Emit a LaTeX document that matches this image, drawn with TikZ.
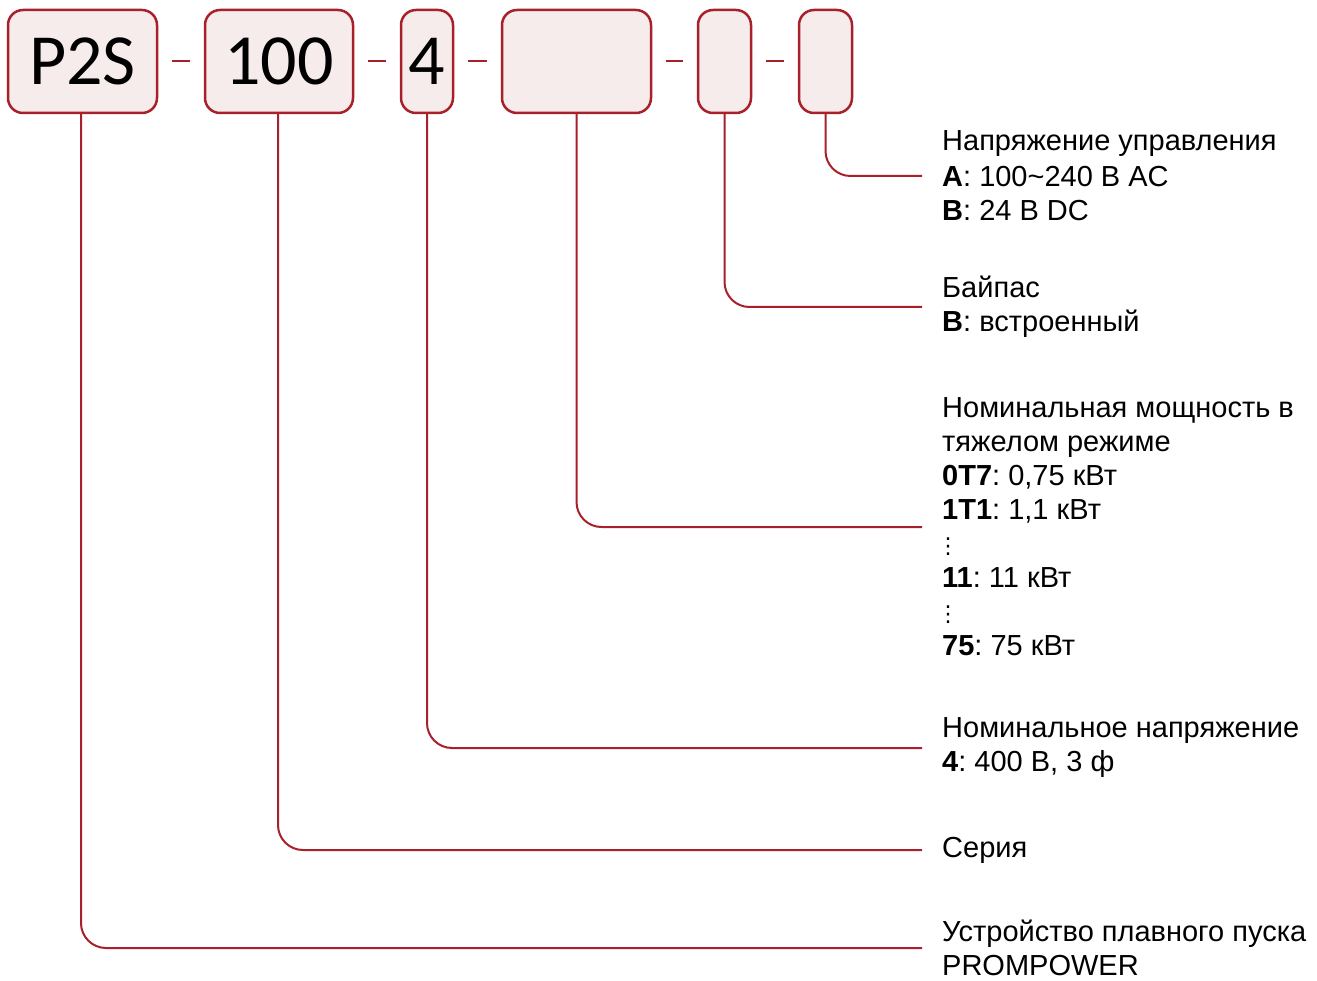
\documentclass[tikz,border=0pt]{standalone}
\usepackage{fontspec}
\setmainfont{Liberation Sans}
\newfontfamily\boxfont{Carlito}
\newfontfamily\dotsfont{DejaVu Sans}
\usetikzlibrary{positioning}
\definecolor{codered}{RGB}{168,32,42}
\definecolor{codefill}{RGB}{246,236,236}
\frenchspacing

\begin{document}
\begin{tikzpicture}[x = 1pt, y = -1pt,
    field/.style = { draw = codered, fill = codefill, line width = 2.5pt, rounded corners = 15pt, minimum height = 103pt, inner sep = 0pt, font = \boxfont\fontsize{72}{80}\selectfont },
    desc/.style = { anchor = west, align = left, inner xsep = 20pt, inner ysep = 0pt, font = \fontsize{29}{34}\selectfont },
    link/.style = { draw = codered, line width = 2pt, rounded corners = 25pt },
    hyphen/.style = { draw = codered, line width = 2pt, shorten < = 14pt, shorten > = 14pt }]
    \useasboundingbox (0,0) rectangle (1317,981);
    \node [field, minimum width = 149pt] (boxtype) at (82.5,61.5) {P2S};
    \node [field, minimum width = 148pt] (boxseries) at (279,61.5) {100};
    \node [field, minimum width = 52pt] (boxvolt) at (427,61.5) {4};
    \node [field, minimum width = 149pt] (boxpower) at (576.5,61.5) {};
    \node [field, minimum width = 53pt] (boxbypass) at (724.5,61.5) {};
    \node [field, minimum width = 53pt] (boxctrl) at (825.5,61.5) {};

    \draw [hyphen] (boxtype) -- (boxseries);
    \draw [hyphen] (boxseries) -- (boxvolt);
    \draw [hyphen] (boxvolt) -- (boxpower);
    \draw [hyphen] (boxpower) -- (boxbypass);
    \draw [hyphen] (boxbypass) -- (boxctrl);

    \node [desc] (ctrl) at (922,176) { Напряжение управления \\[2pt] \textbf{A}: 100\textasciitilde240 В AC \\ \textbf{B}: 24 В DC };
    \node [desc] (bypass) at (922,307) { Байпас \\ \textbf{B}: встроенный };
    \node [desc] (power) at (922,527) { Номинальная мощность в \\ тяжелом режиме \\
        \textbf{0T7}: 0,75 кВт \\ \textbf{1T1}: 1,1 кВт \\ \hspace{-5pt}{\dotsfont\fontsize{22}{34}\selectfont ⋮} \\
        \textbf{11}: 11 кВт \\ \hspace{-5pt}{\dotsfont\fontsize{22}{34}\selectfont ⋮} \\ \textbf{75}: 75 кВт };
    \node [desc] (volt) at (922,748) { Номинальное напряжение \\ \textbf{4}: 400 В, 3 ф };
    \node [desc] (series) at (922,850) { Серия };
    \node [desc] (type) at (922,948) { Устройство плавного пуска \\ PROMPOWER };

    \draw [link] (boxctrl.south) |- (ctrl.west);
    \draw [link] (boxbypass.south) |- (bypass.west);
    \draw [link] (boxpower.south) |- (power.west);
    \draw [link] (boxvolt.south) |- (volt.west);
    \draw [link] (boxseries.south -| 278,0) |- (series.west);
    \draw [link] (boxtype.south -| 81,0) |- (type.west);
\end{tikzpicture}
\end{document}
